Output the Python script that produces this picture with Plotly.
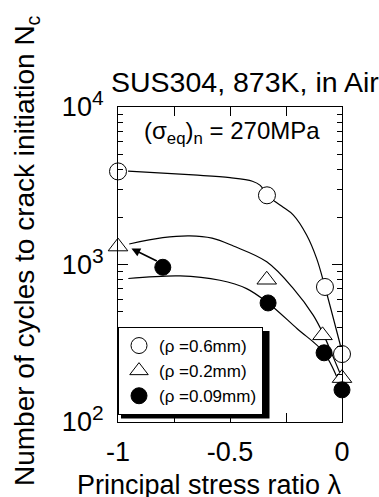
import math
import plotly.graph_objects as go

# ---------------- data ----------------
lam_06 = [-1.0, -0.335, -0.076, 0.0]
nc_06 = [3900, 2750, 720, 270]

lam_02 = [-1.0, -0.336, -0.087, 0.0]
nc_02 = [1300, 800, 355, 190]

lam_009 = [-0.8, -0.33, -0.08, 0.0]
nc_009 = [960, 570, 275, 160]

# hand-drawn trend curves
fit06_x = [-0.955, -0.664, -0.5, -0.40, -0.365, -0.33, -0.27, -0.217, -0.158, -0.113, -0.076, 0.0]
fit06_y = [3920, 3705, 3560, 3380, 3180, 2720, 2350, 2060, 1540, 1090, 720, 280]

fit02_x = [-0.95, -0.8, -0.68, -0.58, -0.485, -0.336, -0.217, -0.128, -0.083, -0.04, 0.0]
fit02_y = [1350, 1480, 1520, 1470, 1310, 1040, 703, 475, 360, 260, 190]

fit009_x = [-0.954, -0.723, -0.545, -0.426, -0.33, -0.2, -0.08, 0.0]
fit009_y = [815, 847, 794, 703, 570, 391, 275, 160]

# arrow from the 0.09 mm point at -0.8 toward the -1 triangle
arrow_tail = (-0.82, 1040)
arrow_head = (-0.94, 1264)

x_ticks = [-1, -0.75, -0.5, -0.25, 0]
x_ticktext = ["-1", "", "-0.5", "", "0"]
y_ticks = [100, 1000, 10000]
y_exponents = ["2", "3", "4"]
y_minor = [m * 10 ** e for e in (2, 3) for m in range(2, 10)]

legend_names = ["(\u03c1 =0.6mm)", "(\u03c1 =0.2mm)", "(\u03c1 =0.09mm)"]

FONT = "Liberation Sans, Arial, Helvetica, sans-serif"
W, H = 379, 497
L, R, T, B = 118, 37, 107, 75
PW, PH = W - L - R, H - T - B


def px(xp):
    return (xp - L) / PW


def py(yp):
    return (H - B - yp) / PH


y_ticktext = ["10<sup><span style='font-size:21px'>%s</span></sup>" % e for e in y_exponents]

fig = go.Figure()

for fx, fy in ((fit06_x, fit06_y), (fit02_x, fit02_y), (fit009_x, fit009_y)):
    fig.add_trace(go.Scatter(x=fx, y=fy, mode="lines", line=dict(color="black", width=1.2, shape="spline", smoothing=1.0),
                             showlegend=False, hoverinfo="skip", cliponaxis=False))

fig.add_trace(go.Scatter(x=lam_06, y=nc_06, mode="markers", name=legend_names[0], cliponaxis=False,
                         marker=dict(symbol="circle", size=17, color="white", line=dict(color="black", width=1))))
fig.add_trace(go.Scatter(x=lam_02, y=nc_02, mode="markers", name=legend_names[1], cliponaxis=False,
                         marker=dict(symbol="triangle-up", size=17, color="white", line=dict(color="black", width=1))))
fig.add_trace(go.Scatter(x=lam_009, y=nc_009, mode="markers", name=legend_names[2], cliponaxis=False,
                         marker=dict(symbol="circle", size=16, color="black", line=dict(color="black", width=1))))

fig.add_annotation(x=arrow_head[0], y=math.log10(arrow_head[1]), ax=arrow_tail[0], ay=math.log10(arrow_tail[1]),
                   xref="x", yref="y", axref="x", ayref="y", text="", showarrow=True,
                   arrowhead=2, arrowsize=1.1, arrowwidth=1.6, arrowcolor="black")

# texts
fig.add_annotation(x=px(244.5), y=py(82), xref="paper", yref="paper", text="SUS304, 873K, in Air",
                   showarrow=False, font=dict(size=28.5, color="black", family=FONT), xanchor="center", yanchor="middle")
fig.add_annotation(x=px(232), y=py(132), xref="paper", yref="paper",
                   text="(\u03c3<sub>eq</sub>)<sub>n</sub> = 270MPa",
                   showarrow=False, font=dict(size=24, color="black", family=FONT), xanchor="center", yanchor="middle")
fig.add_annotation(x=px(209), y=py(485), xref="paper", yref="paper", text="Principal stress ratio \u03bb",
                   showarrow=False, font=dict(size=27, color="black", family=FONT), xanchor="center", yanchor="middle")
fig.add_annotation(x=px(26), y=py(251), xref="paper", yref="paper",
                   text="Number of cycles to crack initiation N<sub>c</sub>", textangle=-90,
                   showarrow=False, font=dict(size=28, color="black", family=FONT), xanchor="center", yanchor="middle")

# legend shadow
fig.add_shape(type="rect", xref="paper", yref="paper", x0=px(121), x1=px(269.5), y0=py(418.5), y1=py(331),
              fillcolor="black", line=dict(width=0), layer="above")

fig.update_xaxes(range=[-1, 0], tickmode="array", tickvals=x_ticks, ticktext=x_ticktext,
                 ticks="inside", ticklen=9, tickwidth=1, tickcolor="black", mirror="ticks",
                 showline=True, linecolor="black", linewidth=1, showgrid=False, zeroline=False,
                 tickfont=dict(size=27, color="black", family=FONT), ticklabelstandoff=6)
fig.update_yaxes(type="log", range=[2, 4], tickmode="array", tickvals=y_ticks, ticktext=y_ticktext,
                 ticks="inside", ticklen=10, tickwidth=1, tickcolor="black", mirror="ticks",
                 showline=True, linecolor="black", linewidth=1, showgrid=False, zeroline=False,
                 tickfont=dict(size=27, color="black", family=FONT), ticklabelstandoff=8,
                 minor=dict(tickvals=y_minor, ticks="inside", ticklen=5, tickwidth=1, tickcolor="black", showgrid=False))

fig.update_layout(width=W, height=H, margin=dict(l=L, r=R, t=T, b=B, autoexpand=False),
                  paper_bgcolor="white", plot_bgcolor="white",
                  font=dict(family=FONT, color="black"),
                  legend=dict(x=0, y=py(415), xanchor="left", yanchor="bottom", bgcolor="white",
                              bordercolor="black", borderwidth=1, font=dict(size=17, family=FONT, color="black"),
                              itemwidth=30, tracegroupgap=0, traceorder="normal"),
                  showlegend=True)

fig.write_html("out.html")
